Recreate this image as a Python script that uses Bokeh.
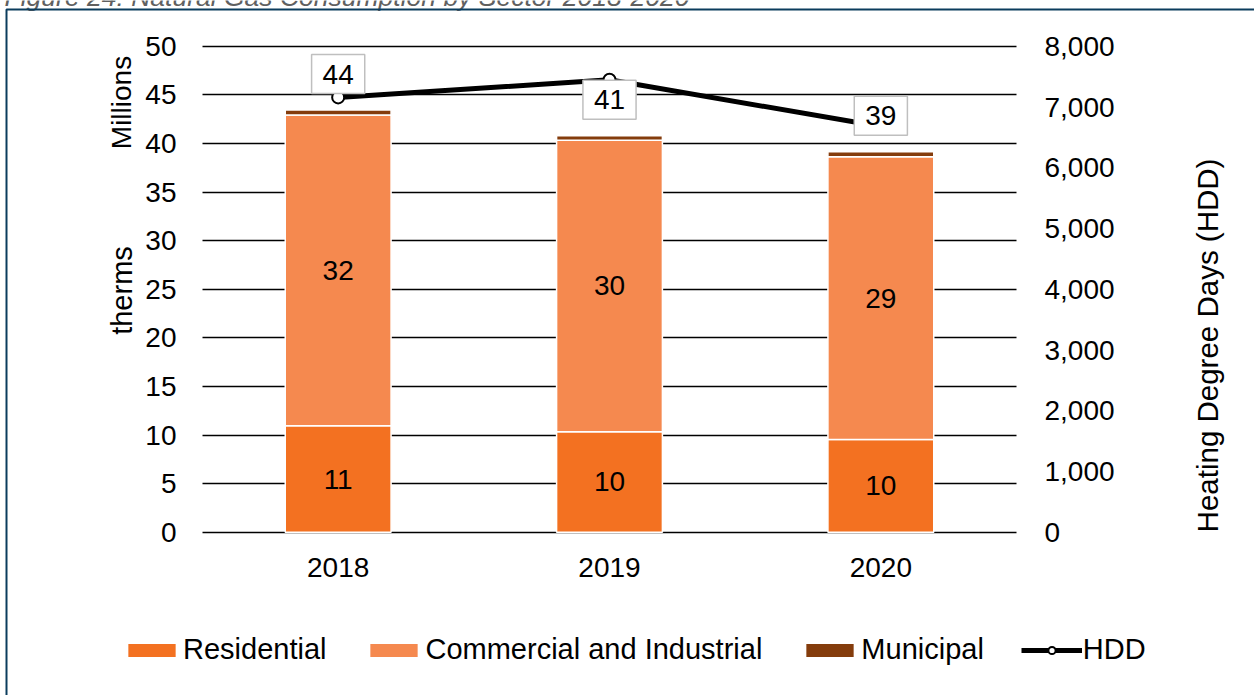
import math
from bokeh.plotting import figure
from bokeh.models import (ColumnDataSource, Range1d, LinearAxis, Label, LabelSet, BoxAnnotation,
                          Legend, LegendItem, NumeralTickFormatter, FixedTicker)
from bokeh.core.properties import value
from bokeh.embed import file_html
from bokeh.resources import INLINE

# ---- data ----
years = ["2018", "2019", "2020"]
residential = [10.95, 10.35, 9.55]      # millions of therms
commercial = [32.0, 30.0, 29.1]         # Commercial and Industrial
municipal = [0.5, 0.45, 0.5]
hdd = [7160, 7450, 6680]                # heating degree days
total_labels = ["44", "41", "39"]
left_ticks = [0, 5, 10, 15, 20, 25, 30, 35, 40, 45, 50]
right_ticks = [0, 1000, 2000, 3000, 4000, 5000, 6000, 7000, 8000]

series_names = ["Residential", "Commercial and Industrial", "Municipal"]
colors = ["#F37121", "#F5894F", "#843C0C"]
FONT = "Liberation Sans"
FS = "28px"

W, H = 1254, 695
# layout: plot area spans pixels 202..1016 horizontally; 0 -> y px 531.7, 50 -> y px 45.9
PX_LEFT, PX_RIGHT = 202, 1016
PX_Y0, PX_Y50 = 531.7, 45.9
ncat = len(years)
pxu_x = (PX_RIGHT - PX_LEFT) / ncat
pxu_y = (PX_Y0 - PX_Y50) / left_ticks[-1]
x_lo = -PX_LEFT / pxu_x
x_hi = ncat + (W - PX_RIGHT) / pxu_x
y_hi = PX_Y0 / pxu_y
y_lo = -(H - PX_Y0) / pxu_y
scale = right_ticks[-1] / left_ticks[-1]


def px2x(px):
    return x_lo + px / pxu_x


def px2y(py):
    return y_hi - py / pxu_y


xs = [i + 0.5 for i in range(ncat)]
totals = [r + c + m for r, c, m in zip(residential, commercial, municipal)]
src = ColumnDataSource(dict(
    x=xs,
    Residential=residential,
    **{"Commercial and Industrial": commercial},
    Municipal=municipal,
    hdd=hdd,
    res_mid=[r / 2 for r in residential],
    ci_mid=[r + c / 2 for r, c in zip(residential, commercial)],
    res_txt=[f"{r:.0f}" for r in residential],
    ci_txt=[f"{c:.0f}" for c in commercial],
))

p = figure(x_range=Range1d(x_lo, x_hi), y_range=Range1d(y_lo, y_hi),
           frame_width=W, frame_height=H,
           min_border_left=0, min_border_right=0, min_border_top=0, min_border_bottom=0,
           output_backend="svg", toolbar_location=None)
p.extra_y_ranges = {"hdd": Range1d(y_lo * scale, y_hi * scale)}
p.outline_line_color = None
p.background_fill_color = "white"
p.border_fill_color = "white"

# grid (only across the plot area)
p.xgrid.grid_line_color = None
p.ygrid.ticker = FixedTicker(ticks=left_ticks)
p.ygrid.grid_line_color = "black"
p.ygrid.grid_line_width = 1.5
try:
    p.ygrid.cross_bounds = (0, ncat)
except Exception:
    p.ygrid.grid_line_color = None
    p.segment(x0=0, x1=ncat, y0=left_ticks, y1=left_ticks, line_color="black", line_width=1.5)

# axes drawn at fixed positions
p.yaxis.ticker = FixedTicker(ticks=left_ticks)
p.yaxis.fixed_location = 0
p.xaxis.ticker = FixedTicker(ticks=xs)
p.xaxis.major_label_overrides = {x: y for x, y in zip(xs, years)}
p.xaxis.fixed_location = 0

ra = LinearAxis(y_range_name="hdd", ticker=FixedTicker(ticks=right_ticks),
                formatter=NumeralTickFormatter(format="0,0"), fixed_location=ncat)
p.add_layout(ra, "right")

for ax in [p.yaxis[0], ra, p.xaxis[0]]:
    ax.axis_line_color = None
    ax.major_tick_line_color = None
    ax.minor_tick_line_color = None
    ax.major_tick_out = 0
    ax.major_tick_in = 0
    ax.major_label_text_font = FONT
    ax.major_label_text_font_size = FS
    ax.major_label_text_color = "black"
p.yaxis[0].major_label_standoff = 26
ra.major_label_standoff = 28
p.xaxis[0].major_label_standoff = 26

# stacked bars
bars = p.vbar_stack(series_names, x="x", width=0.39, fill_color=colors,
                    line_color="white", line_width=1.5, source=src)

# bar value labels
for ycol, tcol in [("res_mid", "res_txt"), ("ci_mid", "ci_txt")]:
    p.add_layout(LabelSet(x="x", y=ycol, text=tcol, source=src,
                          text_align="center", text_baseline="middle",
                          text_font=value(FONT), text_font_size=value(FS), text_color="black"))

# HDD line
hl = p.line(x="x", y="hdd", y_range_name="hdd", source=src, line_color="black", line_width=5)
hs = p.scatter(x="x", y="hdd", y_range_name="hdd", source=src, size=12,
               fill_color="white", line_color="black", line_width=2)

# total labels (boxed, with soft shadow)
for xv, t, txt in zip(xs, totals, total_labels):
    p.add_layout(Label(x=xv, y=t, y_offset=34, x_offset=2, text=txt,
                       text_alpha=0, text_font=FONT, text_font_size=FS,
                       text_align="center", text_baseline="middle",
                       background_fill_color="#7F7F7F", background_fill_alpha=0.25,
                       padding=(11, 10)))
    p.add_layout(Label(x=xv, y=t, y_offset=36, text=txt,
                       text_font=FONT, text_font_size=FS, text_color="black",
                       text_align="center", text_baseline="middle",
                       background_fill_color="white", border_line_color="#BFBFBF",
                       border_line_width=1.5, padding=(11, 10)))

# axis titles
p.add_layout(Label(x=px2x(121), y=px2y(102), text="Millions", angle=math.pi / 2,
                   text_align="center", text_baseline="middle",
                   text_font=FONT, text_font_size=FS, text_color="black"))
p.add_layout(Label(x=px2x(121), y=px2y(290), text="therms", angle=math.pi / 2,
                   text_align="center", text_baseline="middle",
                   text_font=FONT, text_font_size="29px", text_color="black"))
p.add_layout(Label(x=px2x(1207), y=px2y(345), text="Heating Degree Days (HDD)", angle=math.pi / 2,
                   text_align="center", text_baseline="middle",
                   text_font=FONT, text_font_size="29.5px", text_color="black"))

# caption (cut at the top edge, as in the reference)
p.add_layout(Label(x=px2x(4), y=px2y(-4), text="Figure 24: Natural Gas Consumption by Sector 2018-2020",
                   text_align="left", text_baseline="alphabetic",
                   text_font=FONT, text_font_size="26.5px", text_font_style="italic",
                   text_color="#606060"))

# frame border
p.add_layout(BoxAnnotation(left=px2x(6), top=px2y(9), right=px2x(W + 50), bottom=px2y(H + 50),
                           fill_alpha=0, line_color="#0B3C5D", line_alpha=1.0, line_width=2))

# legend
items = [LegendItem(label=n, renderers=[r]) for n, r in zip(series_names, bars)]
items.append(LegendItem(label="HDD", renderers=[hl, hs]))
legend = Legend(items=items, orientation="horizontal", location=(121, 29),
                padding=0, margin=0, spacing=37, label_standoff=1,
                glyph_width=61, glyph_height=18, border_line_color=None,
                background_fill_alpha=0, label_text_font=FONT,
                label_text_font_size="29px", label_text_color="black")
p.add_layout(legend)

open("out.html", "w").write(file_html(p, INLINE))
